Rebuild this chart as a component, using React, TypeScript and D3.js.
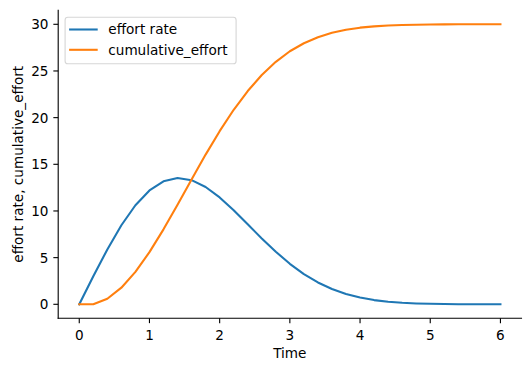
import * as React from "react";
import * as d3 from "d3";

const time = [0, 0.2, 0.4, 0.6, 0.8, 1.0, 1.2, 1.4, 1.6, 1.8, 2.0, 2.2, 2.4, 2.6, 2.8, 3.0,
  3.2, 3.4, 3.6, 3.8, 4.0, 4.2, 4.4, 4.6, 4.8, 5.0, 5.2, 5.4, 5.6, 5.8, 6.0];
const effortRate = [0, 3.0, 5.88, 8.47, 10.61, 12.2, 13.18, 13.53, 13.3, 12.57, 11.45, 10.08,
  8.57, 7.06, 5.63, 4.34, 3.24, 2.34, 1.64, 1.11, 0.72, 0.45, 0.28, 0.16, 0.09, 0.05, 0.03,
  0.01, 0.01, 0.0, 0.0];
const cumulativeEffort = [0, 0, 0.6, 1.78, 3.47, 5.59, 8.03, 10.67, 13.38, 16.04, 18.55, 20.84,
  22.85, 24.57, 25.98, 27.11, 27.97, 28.62, 29.09, 29.42, 29.64, 29.78, 29.87, 29.93, 29.96,
  29.98, 29.99, 30.0, 30.0, 30.0, 30.0];
const xTicks = [0, 1, 2, 3, 4, 5, 6];
const yTicks = [0, 5, 10, 15, 20, 25, 30];
const seriesNames = ["effort rate", "cumulative_effort"];

const width = 532;
const height = 371;
const fontSize = 13.6;
const tickLen = 4.86;
const font = "DejaVu Sans, sans-serif";

const App = () => {
  const left = 58.2, right = 521.5, top = 10.3, bottom = 318.3;

  const x = d3.scaleLinear().domain([-0.3, 6.3]).range([left, right]);
  const y = d3.scaleLinear().domain([-1.5, 31.5]).range([bottom, top]);

  const line = d3
    .line<number>()
    .x((d, i) => x(time[i]))
    .y((d) => y(d));

  const series = [
    { name: seriesNames[0], values: effortRate, color: "#1f77b4" },
    { name: seriesNames[1], values: cumulativeEffort, color: "#ff7f0e" },
  ];

  // legend sits in the upper left corner
  const legX = left + 6.9;
  const legY = top + 6.9;

  return (
    <div style={{ position: "absolute", left: 0, top: 0 }}>
      <svg width={width} height={height} style={{ display: "block", background: "#fff" }}
        fontFamily={font} fontSize={fontSize}>
        {series.map((s) => (
          <path key={s.name} d={line(s.values) || ""} fill="none" stroke={s.color}
            strokeWidth={2.08} strokeLinejoin="round" strokeLinecap="square" />
        ))}

        {/* spines */}
        <line x1={left} x2={left} y1={top} y2={bottom} stroke="#000" strokeWidth={1.11} strokeLinecap="square" />
        <line x1={left} x2={right} y1={bottom} y2={bottom} stroke="#000" strokeWidth={1.11} strokeLinecap="square" />

        {xTicks.map((t) => (
          <g key={"x" + t} transform={`translate(${x(t)},${bottom})`}>
            <line y1={0} y2={tickLen} stroke="#000" strokeWidth={1.11} />
            <text y={21.8} textAnchor="middle" fill="#000">{t}</text>
          </g>
        ))}
        {yTicks.map((t) => (
          <g key={"y" + t} transform={`translate(${left},${y(t)})`}>
            <line x1={0} x2={-tickLen} stroke="#000" strokeWidth={1.11} />
            <text x={-tickLen - 4.86} y={4.9} textAnchor="end" fill="#000">{t}</text>
          </g>
        ))}

        <text x={(left + right) / 2} y={358.3} textAnchor="middle" fill="#000">Time</text>
        <text transform={`translate(23,${(top + bottom) / 2}) rotate(-90)`} textAnchor="middle" fill="#000">
          effort rate, cumulative_effort
        </text>

        <rect x={legX} y={legY} width={171} height={46.5} rx={2.8} fill="#fff" fillOpacity={0.8}
          stroke="#cccccc" strokeOpacity={0.8} strokeWidth={1.11} />
        {series.map((s, i) => (
          <g key={"leg" + s.name} transform={`translate(${legX},${legY + 12.3 + i * 20.3})`}>
            <line x1={4} x2={32.6} stroke={s.color} strokeWidth={2.08} />
            <text x={43.2} y={4.9} fill="#000">{s.name}</text>
          </g>
        ))}
      </svg>
    </div>
  );
};

export default App;
